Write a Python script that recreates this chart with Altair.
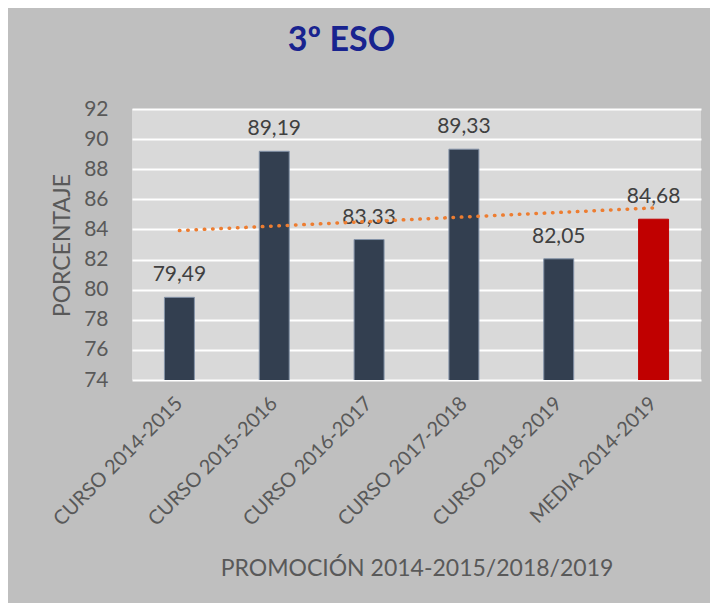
import altair as alt
import pandas as pd

categorias = ["CURSO 2014-2015", "CURSO 2015-2016", "CURSO 2016-2017",
              "CURSO 2017-2018", "CURSO 2018-2019", "MEDIA 2014-2019"]
valores = [79.49, 89.19, 83.33, 89.33, 82.05, 84.68]
indices = [1, 2, 3, 4, 5, 6]

df = pd.DataFrame({
    "categoria": categorias,
    "valor": valores,
    "idx": indices,
})
df["etiqueta"] = df["valor"].map(lambda v: f"{v:.2f}".replace(".", ","))

FONT = "Lato"
AXIS_COLOR = "#595959"

x_scale = alt.Scale(paddingInner=0.684, paddingOuter=0.342)
x_axis = alt.Axis(
    title="PROMOCIÓN 2014-2015/2018/2019",
    labelAngle=-45,
    labelAlign="right",
    labelBaseline="middle",
    labelPadding=20,
    labelFontSize=20,
    labelLimit=400,
    labelColor=AXIS_COLOR,
    labelFont=FONT,
    labelOverlap=False,
    ticks=False,
    domain=False,
    grid=False,
    titleFont=FONT,
    titleFontSize=23,
    titleFontWeight="normal",
    titleColor=AXIS_COLOR,
    titleY=188,
    titleBaseline="middle",
)

y_scale = alt.Scale(domain=[74, 92], nice=False, zero=False)
y_axis = alt.Axis(
    title="PORCENTAJE",
    values=list(range(74, 93, 2)),
    labelFontSize=21,
    labelColor=AXIS_COLOR,
    labelFont=FONT,
    labelPadding=24,
    labelOverlap=False,
    labelBound=False,
    ticks=False,
    tickSize=0,
    domain=False,
    grid=True,
    gridColor="#ffffff",
    gridWidth=2,
    titleFont=FONT,
    titleFontSize=23,
    titleFontWeight="normal",
    titleColor=AXIS_COLOR,
    titleX=-70,
    titleY=136,
    titleAngle=-90,
    titleAlign="center",
    titleBaseline="middle",
)

base = alt.Chart(df)

bars = base.mark_bar(strokeWidth=1, clip=True).encode(
    x=alt.X("categoria:N", sort=categorias, scale=x_scale, axis=x_axis),
    y=alt.Y("valor:Q", scale=y_scale, axis=y_axis),
    color=alt.condition(alt.datum.categoria == "MEDIA 2014-2019",
                        alt.value("#c00000"), alt.value("#333f50")),
    stroke=alt.condition(alt.datum.categoria == "MEDIA 2014-2019",
                         alt.value("#c00000"), alt.value("#8493a8")),
)

labels = base.mark_text(
    font=FONT, fontSize=21, color="#404040", baseline="alphabetic", dy=-16
).encode(
    x=alt.X("categoria:N", sort=categorias, scale=x_scale, axis=x_axis),
    y=alt.Y("valor:Q", scale=y_scale, axis=y_axis),
    text="etiqueta:N",
)

trend = base.transform_regression(
    "idx", "valor", extent=[1, 6]
).mark_line(
    color="#ed7d31", strokeWidth=3.5, strokeDash=[0.5, 7.8], strokeCap="round"
).encode(
    x=alt.X("idx:Q", scale=alt.Scale(domain=[0.5, 6.5], nice=False, zero=False), axis=None),
    y=alt.Y("valor:Q", scale=y_scale, axis=y_axis),
)

chart = alt.layer(alt.layer(bars, labels), trend).resolve_scale(
    x="independent"
).properties(
    width=569,
    height=271,
    autosize=alt.AutoSizeParams(type="none"),
    padding={"left": 124, "top": 101, "right": 9, "bottom": 223},
    background="#bfbfbf",
    title=alt.TitleParams(
        "3º ESO",
        font=FONT,
        fontSize=34,
        fontWeight="bold",
        color="#18238f",
        anchor="middle",
        dx=-75,
        offset=13,
        baseline="alphabetic",
    ),
).configure_view(
    fill="#d9d9d9",
    stroke=None,
)

chart.save("out.html", embed_options={"renderer": "svg", "actions": False})
